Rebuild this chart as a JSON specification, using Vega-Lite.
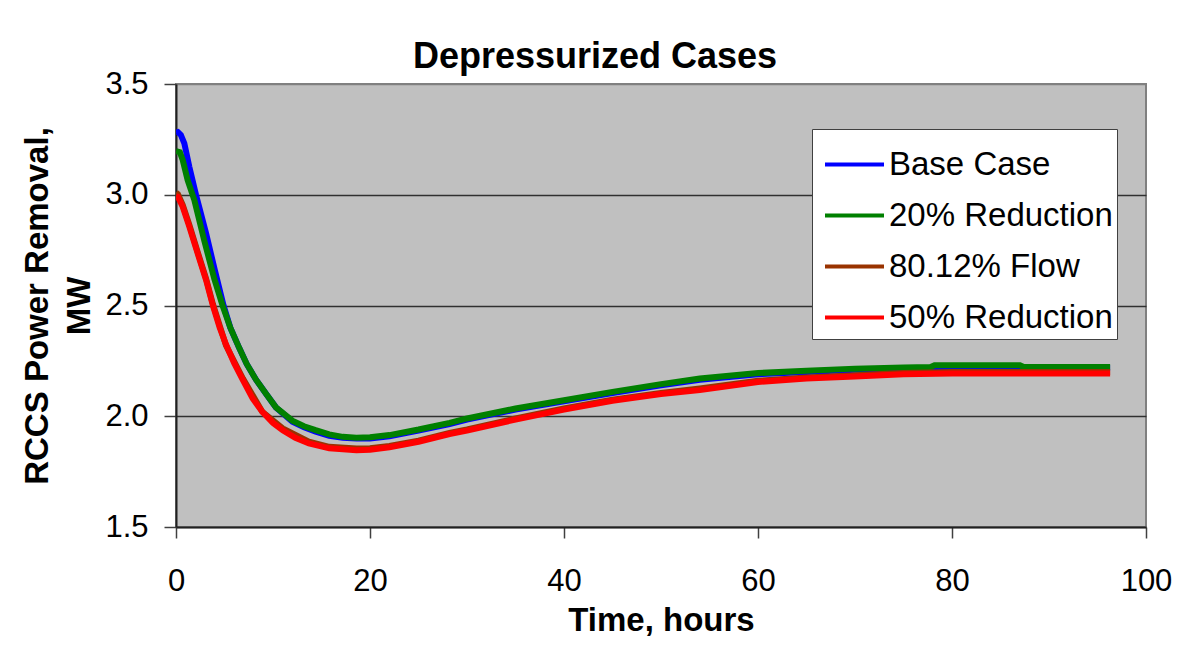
{
  "$schema": "https://vega.github.io/schema/vega-lite/v6.json",
  "width": 970,
  "height": 443,
  "autosize": {"type": "none"},
  "padding": {"left": 176, "top": 84, "right": 35, "bottom": 123},
  "background": "white",
  "config": {
    "font": "Liberation Sans",
    "view": {"fill": "#C0C0C0", "stroke": "#808080", "strokeWidth": 2},
    "axis": {"labelColor": "black", "titleColor": "black", "labelFont": "Liberation Sans", "titleFont": "Liberation Sans"}
  },
  "title": {
    "text": "Depressurized Cases",
    "fontSize": 36,
    "fontWeight": "bold",
    "font": "Liberation Sans",
    "color": "black",
    "anchor": "middle",
    "frame": "group",
    "dx": -66,
    "dy": 38,
    "baseline": "alphabetic",
    "offset": 2
  },
  "data": {
    "values": [
      {"series": "Base Case", "t": 0, "v": 3.28},
      {"series": "Base Case", "t": 0.2, "v": 3.283},
      {"series": "Base Case", "t": 0.5, "v": 3.27},
      {"series": "Base Case", "t": 0.86, "v": 3.232},
      {"series": "Base Case", "t": 1.37, "v": 3.127},
      {"series": "Base Case", "t": 2.06, "v": 3.0},
      {"series": "Base Case", "t": 3.1, "v": 2.826},
      {"series": "Base Case", "t": 4.0, "v": 2.66},
      {"series": "Base Case", "t": 4.9, "v": 2.5},
      {"series": "Base Case", "t": 5.6, "v": 2.4},
      {"series": "Base Case", "t": 6.5, "v": 2.31},
      {"series": "Base Case", "t": 7.3, "v": 2.235},
      {"series": "Base Case", "t": 8.25, "v": 2.165},
      {"series": "Base Case", "t": 9.3, "v": 2.1},
      {"series": "Base Case", "t": 10.3, "v": 2.04},
      {"series": "Base Case", "t": 12.0, "v": 1.975},
      {"series": "Base Case", "t": 13.2, "v": 1.95},
      {"series": "Base Case", "t": 14.4, "v": 1.93},
      {"series": "Base Case", "t": 15.8, "v": 1.912},
      {"series": "Base Case", "t": 17.2, "v": 1.903},
      {"series": "Base Case", "t": 18.6, "v": 1.9},
      {"series": "Base Case", "t": 20, "v": 1.9},
      {"series": "Base Case", "t": 22, "v": 1.91},
      {"series": "Base Case", "t": 25, "v": 1.935},
      {"series": "Base Case", "t": 28.2, "v": 1.965},
      {"series": "Base Case", "t": 30, "v": 1.985},
      {"series": "Base Case", "t": 35, "v": 2.03},
      {"series": "Base Case", "t": 40, "v": 2.068},
      {"series": "Base Case", "t": 45, "v": 2.105},
      {"series": "Base Case", "t": 50, "v": 2.14},
      {"series": "Base Case", "t": 54, "v": 2.165},
      {"series": "Base Case", "t": 60, "v": 2.19},
      {"series": "Base Case", "t": 65, "v": 2.2},
      {"series": "Base Case", "t": 70, "v": 2.21},
      {"series": "Base Case", "t": 75, "v": 2.215},
      {"series": "Base Case", "t": 80, "v": 2.218},
      {"series": "Base Case", "t": 90, "v": 2.218},
      {"series": "Base Case", "t": 96.3, "v": 2.218},

      {"series": "20% Reduction", "t": 0, "v": 3.197},
      {"series": "20% Reduction", "t": 0.4, "v": 3.192},
      {"series": "20% Reduction", "t": 0.69, "v": 3.157},
      {"series": "20% Reduction", "t": 1.2, "v": 3.066},
      {"series": "20% Reduction", "t": 1.89, "v": 2.976},
      {"series": "20% Reduction", "t": 2.9, "v": 2.795},
      {"series": "20% Reduction", "t": 3.95, "v": 2.62},
      {"series": "20% Reduction", "t": 4.8, "v": 2.5},
      {"series": "20% Reduction", "t": 5.6, "v": 2.4},
      {"series": "20% Reduction", "t": 6.5, "v": 2.31},
      {"series": "20% Reduction", "t": 7.3, "v": 2.235},
      {"series": "20% Reduction", "t": 8.25, "v": 2.165},
      {"series": "20% Reduction", "t": 9.3, "v": 2.1},
      {"series": "20% Reduction", "t": 10.3, "v": 2.04},
      {"series": "20% Reduction", "t": 12.0, "v": 1.98},
      {"series": "20% Reduction", "t": 13.2, "v": 1.955},
      {"series": "20% Reduction", "t": 14.4, "v": 1.937},
      {"series": "20% Reduction", "t": 15.8, "v": 1.918},
      {"series": "20% Reduction", "t": 17.2, "v": 1.907},
      {"series": "20% Reduction", "t": 18.6, "v": 1.903},
      {"series": "20% Reduction", "t": 20, "v": 1.905},
      {"series": "20% Reduction", "t": 22, "v": 1.915},
      {"series": "20% Reduction", "t": 25, "v": 1.94},
      {"series": "20% Reduction", "t": 28.2, "v": 1.97},
      {"series": "20% Reduction", "t": 30, "v": 1.99},
      {"series": "20% Reduction", "t": 35, "v": 2.035},
      {"series": "20% Reduction", "t": 40, "v": 2.072},
      {"series": "20% Reduction", "t": 45, "v": 2.11},
      {"series": "20% Reduction", "t": 50, "v": 2.145},
      {"series": "20% Reduction", "t": 54, "v": 2.17},
      {"series": "20% Reduction", "t": 60, "v": 2.195},
      {"series": "20% Reduction", "t": 65, "v": 2.205},
      {"series": "20% Reduction", "t": 70, "v": 2.215},
      {"series": "20% Reduction", "t": 75, "v": 2.22},
      {"series": "20% Reduction", "t": 77.8, "v": 2.222},
      {"series": "20% Reduction", "t": 78.2, "v": 2.23},
      {"series": "20% Reduction", "t": 87.0, "v": 2.23},
      {"series": "20% Reduction", "t": 87.4, "v": 2.222},
      {"series": "20% Reduction", "t": 96.3, "v": 2.222},

      {"series": "80.12% Flow", "t": 0, "v": 3.01},
      {"series": "80.12% Flow", "t": 0.2, "v": 3.003},
      {"series": "80.12% Flow", "t": 0.69, "v": 2.955},
      {"series": "80.12% Flow", "t": 1.37, "v": 2.865},
      {"series": "80.12% Flow", "t": 2.23, "v": 2.742},
      {"series": "80.12% Flow", "t": 3.1, "v": 2.622},
      {"series": "80.12% Flow", "t": 3.8, "v": 2.507},
      {"series": "80.12% Flow", "t": 5.15, "v": 2.32},
      {"series": "80.12% Flow", "t": 6.9, "v": 2.17},
      {"series": "80.12% Flow", "t": 8.9, "v": 2.02},
      {"series": "80.12% Flow", "t": 11.0, "v": 1.945},
      {"series": "80.12% Flow", "t": 13.7, "v": 1.885},
      {"series": "80.12% Flow", "t": 15.8, "v": 1.862},
      {"series": "80.12% Flow", "t": 18.6, "v": 1.854},
      {"series": "80.12% Flow", "t": 20, "v": 1.856},
      {"series": "80.12% Flow", "t": 22, "v": 1.866},
      {"series": "80.12% Flow", "t": 25, "v": 1.89},
      {"series": "80.12% Flow", "t": 28.2, "v": 1.925},
      {"series": "80.12% Flow", "t": 30, "v": 1.94},
      {"series": "80.12% Flow", "t": 35, "v": 1.99},
      {"series": "80.12% Flow", "t": 40, "v": 2.035},
      {"series": "80.12% Flow", "t": 45, "v": 2.075},
      {"series": "80.12% Flow", "t": 50, "v": 2.105},
      {"series": "80.12% Flow", "t": 54, "v": 2.125},
      {"series": "80.12% Flow", "t": 60, "v": 2.16},
      {"series": "80.12% Flow", "t": 65, "v": 2.175},
      {"series": "80.12% Flow", "t": 70, "v": 2.185},
      {"series": "80.12% Flow", "t": 75, "v": 2.195},
      {"series": "80.12% Flow", "t": 80, "v": 2.2},
      {"series": "80.12% Flow", "t": 90, "v": 2.2},
      {"series": "80.12% Flow", "t": 96.3, "v": 2.2},

      {"series": "50% Reduction", "t": 0, "v": 2.995},
      {"series": "50% Reduction", "t": 0.2, "v": 2.99},
      {"series": "50% Reduction", "t": 0.69, "v": 2.946},
      {"series": "50% Reduction", "t": 1.37, "v": 2.856},
      {"series": "50% Reduction", "t": 2.23, "v": 2.735},
      {"series": "50% Reduction", "t": 3.1, "v": 2.615},
      {"series": "50% Reduction", "t": 3.8, "v": 2.5},
      {"series": "50% Reduction", "t": 4.5, "v": 2.4},
      {"series": "50% Reduction", "t": 5.15, "v": 2.325},
      {"series": "50% Reduction", "t": 6.0, "v": 2.24},
      {"series": "50% Reduction", "t": 6.9, "v": 2.163},
      {"series": "50% Reduction", "t": 7.9, "v": 2.08},
      {"series": "50% Reduction", "t": 8.9, "v": 2.02},
      {"series": "50% Reduction", "t": 10.0, "v": 1.97},
      {"series": "50% Reduction", "t": 11.0, "v": 1.937},
      {"series": "50% Reduction", "t": 12.3, "v": 1.903},
      {"series": "50% Reduction", "t": 13.7, "v": 1.877},
      {"series": "50% Reduction", "t": 15.8, "v": 1.855},
      {"series": "50% Reduction", "t": 18.6, "v": 1.847},
      {"series": "50% Reduction", "t": 20, "v": 1.849},
      {"series": "50% Reduction", "t": 22, "v": 1.86},
      {"series": "50% Reduction", "t": 25, "v": 1.885},
      {"series": "50% Reduction", "t": 28.2, "v": 1.92},
      {"series": "50% Reduction", "t": 30, "v": 1.935},
      {"series": "50% Reduction", "t": 35, "v": 1.985},
      {"series": "50% Reduction", "t": 40, "v": 2.03},
      {"series": "50% Reduction", "t": 45, "v": 2.07},
      {"series": "50% Reduction", "t": 50, "v": 2.1},
      {"series": "50% Reduction", "t": 54, "v": 2.118},
      {"series": "50% Reduction", "t": 60, "v": 2.155},
      {"series": "50% Reduction", "t": 65, "v": 2.17},
      {"series": "50% Reduction", "t": 70, "v": 2.18},
      {"series": "50% Reduction", "t": 75, "v": 2.19},
      {"series": "50% Reduction", "t": 80, "v": 2.193},
      {"series": "50% Reduction", "t": 90, "v": 2.193},
      {"series": "50% Reduction", "t": 96.3, "v": 2.193}
    ]
  },
  "encoding": {
    "x": {
      "field": "t",
      "type": "quantitative",
      "scale": {"domain": [0, 100], "nice": false, "zero": false},
      "axis": {
        "title": "Time, hours",
        "values": [0, 20, 40, 60, 80, 100],
        "grid": false,
        "tickSize": 11,
        "tickColor": "#404040",
        "tickWidth": 1.5,
        "domainColor": "#202020",
        "domainWidth": 2,
        "labelFontSize": 31,
        "labelPadding": 28,
        "labelFlush": false,
        "titleFontSize": 33,
        "titleFontWeight": "bold",
        "titleBaseline": "alphabetic",
        "titleY": 103
      }
    },
    "y": {
      "field": "v",
      "type": "quantitative",
      "scale": {"domain": [1.5, 3.5], "nice": false, "zero": false},
      "axis": {
        "title": ["RCCS Power Removal,", "MW"],
        "values": [1.5, 2.0, 2.5, 3.0, 3.5],
        "format": ".1f",
        "grid": true,
        "gridColor": {"condition": {"test": "datum.value == 3.5 || datum.value == 1.5", "value": "#808080"}, "value": "#303030"},
        "gridWidth": 1.3,
        "tickSize": 12,
        "tickColor": "#404040",
        "tickWidth": 1.5,
        "domainColor": "#202020",
        "domainWidth": 2,
        "labelFontSize": 31,
        "labelPadding": 16,
        "labelFlush": false,
        "titleFontSize": 33,
        "titleFontWeight": "bold",
        "titleLineHeight": 42,
        "titleAngle": -90,
        "titleAlign": "center",
        "titleBaseline": "middle",
        "titleX": -139,
        "titleY": 221.5
      }
    },
    "color": {
      "field": "series",
      "type": "nominal",
      "scale": {
        "domain": ["Base Case", "20% Reduction", "80.12% Flow", "50% Reduction"],
        "range": ["#0000FF", "#008000", "#993300", "#FF0000"]
      },
      "legend": {
        "title": null,
        "orient": "none",
        "legendX": 636,
        "legendY": 45,
        "fillColor": "white",
        "strokeColor": "#404040",
        "padding": 4,
        "symbolType": "stroke",
        "symbolSize": 3481,
        "symbolStrokeWidth": 4,
        "symbolOffset": 7,
        "labelFontSize": 33,
        "labelFont": "Liberation Sans",
        "labelColor": "black",
        "labelOffset": 3,
        "rowPadding": 2,
        "labelLimit": 400
      }
    }
  },
  "layer": [
    {"transform": [{"filter": "datum.series == 'Base Case'"}], "mark": {"type": "line", "strokeWidth": 6, "clip": true}},
    {"transform": [{"filter": "datum.series == '20% Reduction'"}], "mark": {"type": "line", "strokeWidth": 6, "clip": true}},
    {"transform": [{"filter": "datum.series == '80.12% Flow'"}], "mark": {"type": "line", "strokeWidth": 6, "clip": true}},
    {"transform": [{"filter": "datum.series == '50% Reduction'"}], "mark": {"type": "line", "strokeWidth": 6, "clip": true}}
  ]
}
